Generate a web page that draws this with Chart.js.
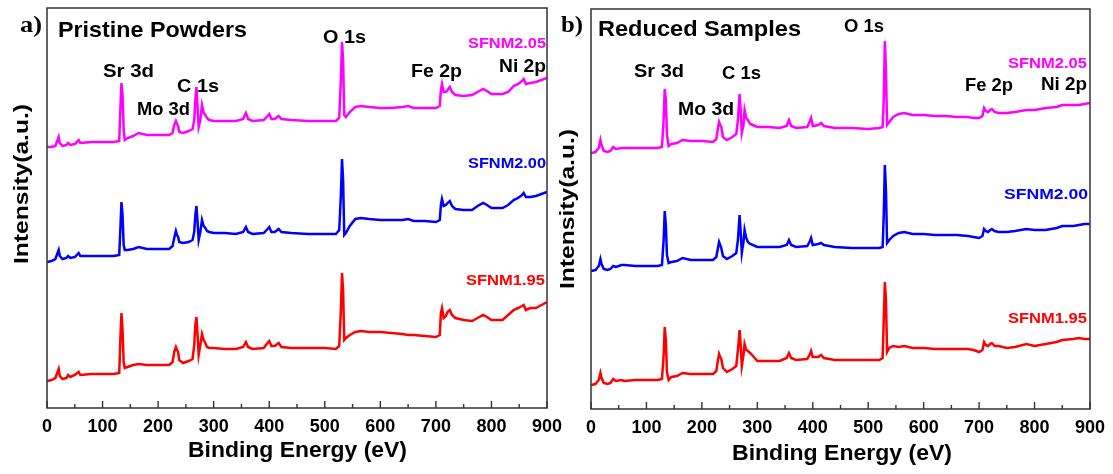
<!DOCTYPE html>
<html>
<head>
<meta charset="utf-8">
<script src="https://cdn.jsdelivr.net/npm/chart.js@4"></script>
<style>
  html, body { margin: 0; padding: 0; background: #fff; }
  body { width: 1113px; height: 474px; position: relative; overflow: hidden; }
  .panel { position: absolute; top: 0; height: 474px; }
  #wrapA { left: 0; width: 575px; }
  #wrapB { left: 556px; width: 557px; }
</style>
</head>
<body>
<div class="panel" id="wrapA"><canvas id="chartA" width="575" height="474"></canvas></div>
<div class="panel" id="wrapB"><canvas id="chartB" width="557" height="474"></canvas></div>
<script>
// binding energies (eV) sampled along the curves
const energyA = [0, 8, 15, 19, 21, 23, 28, 35, 38, 42, 50, 57, 60, 80, 100, 120, 130, 132, 134, 136,
  138, 140, 145, 155, 165, 180, 200, 220, 226, 229, 232, 234, 236, 238, 245, 255, 262, 265, 267, 269,
  271, 273, 276, 279, 282, 285, 288, 292, 300, 320, 340, 353, 358, 362, 370, 390, 397, 400, 404, 410,
  417, 422, 440, 470, 500, 520, 526, 529, 531, 533, 535, 538, 545, 555, 565, 580, 600, 620, 640, 650,
  660, 680, 700, 707, 709, 711, 714, 718, 721, 725, 729, 735, 750, 765, 775, 785, 792, 800, 820, 830,
  840, 848, 855, 858, 862, 870, 880, 890, 900];

// pristine powders, intensity (a.u., stacked)
const pristine205 = [261, 261, 262, 268, 271, 265, 262, 263, 265, 263, 264, 268, 265, 266, 266, 266, 267, 298, 325, 313,
  278, 268, 270, 272, 275, 273, 273, 273, 275, 283, 287, 284, 282, 276, 275, 277, 279, 288, 308, 321,
  300, 281, 288, 303, 295, 293, 290, 288, 287, 287, 287, 289, 295, 289, 287, 288, 292, 294, 289, 289,
  292, 289, 288, 287, 287, 287, 290, 328, 366, 348, 293, 291, 296, 301, 302, 301, 300, 300, 301, 302,
  300, 300, 300, 302, 318, 324, 316, 316, 318, 321, 316, 313, 312, 313, 316, 319, 317, 314, 314, 316,
  322, 324, 327, 329, 324, 325, 326, 328, 330];
const pristine200 = [146, 147, 149, 155, 158, 152, 149, 150, 152, 150, 151, 155, 152, 152, 152, 152, 153, 178, 206, 193,
  163, 158, 158, 159, 161, 159, 159, 159, 162, 170, 177, 173, 171, 166, 165, 166, 168, 176, 193, 202,
  186, 168, 176, 188, 182, 180, 177, 176, 175, 175, 174, 176, 181, 176, 174, 175, 179, 181, 176, 176,
  179, 176, 175, 174, 174, 174, 178, 213, 249, 228, 173, 175, 182, 189, 190, 189, 188, 188, 188, 189,
  187, 187, 186, 188, 203, 209, 202, 203, 205, 207, 202, 199, 198, 198, 202, 205, 203, 200, 200, 203,
  208, 210, 213, 215, 211, 211, 212, 214, 216];
const pristine195 = [27, 28, 30, 36, 39, 32, 29, 30, 33, 31, 33, 36, 33, 34, 34, 34, 35, 68, 95, 78,
  46, 40, 41, 43, 44, 43, 43, 43, 46, 56, 61, 58, 56, 48, 45, 47, 49, 63, 83, 91,
  73, 53, 63, 74, 68, 65, 61, 60, 60, 59, 59, 61, 66, 61, 59, 60, 65, 67, 62, 62,
  65, 61, 60, 60, 60, 59, 62, 98, 135, 118, 68, 70, 73, 76, 77, 76, 76, 75, 74, 73,
  73, 72, 71, 73, 95, 100, 90, 92, 96, 98, 93, 90, 88, 87, 90, 93, 91, 88, 88, 93,
  98, 100, 102, 103, 98, 100, 100, 103, 106];

const energyB = [0, 8, 14, 17, 19, 23, 30, 35, 40, 45, 55, 60, 80, 100, 120, 128, 131, 133, 135, 137,
  140, 145, 155, 165, 180, 200, 220, 226, 229, 231, 233, 235, 238, 245, 255, 262, 265, 268, 270, 272,
  275, 277, 280, 283, 287, 292, 300, 320, 340, 353, 357, 361, 370, 390, 395, 397, 400, 410, 415, 420,
  440, 470, 500, 520, 526, 528, 530, 532, 534, 538, 545, 555, 565, 580, 600, 620, 640, 660, 680, 690,
  700, 706, 709, 712, 716, 720, 723, 728, 735, 750, 765, 785, 800, 820, 840, 850, 870, 880, 890, 900];

// reduced samples
const reduced205 = [256, 257, 261, 269, 264, 258, 257, 258, 262, 260, 261, 261, 261, 261, 261, 262, 289, 320, 309, 274,
  263, 265, 266, 269, 268, 268, 267, 270, 281, 287, 284, 282, 272, 269, 272, 275, 289, 315, 299, 276,
  284, 299, 291, 289, 285, 284, 282, 282, 281, 283, 289, 283, 281, 282, 288, 291, 283, 284, 286, 283,
  281, 281, 280, 281, 282, 309, 368, 339, 284, 287, 292, 295, 296, 294, 294, 293, 293, 292, 292, 291,
  291, 293, 301, 298, 297, 299, 300, 297, 296, 296, 297, 299, 299, 301, 302, 304, 304, 304, 305, 306];
const reduced200 = [138, 139, 143, 150, 145, 140, 139, 140, 143, 142, 144, 144, 143, 143, 143, 144, 169, 198, 184, 154,
  146, 147, 148, 151, 149, 149, 149, 152, 161, 167, 164, 161, 153, 150, 153, 156, 169, 194, 177, 156,
  167, 179, 171, 167, 165, 164, 162, 162, 162, 164, 169, 164, 162, 163, 168, 171, 164, 165, 166, 164,
  162, 161, 161, 161, 162, 194, 244, 219, 166, 169, 173, 176, 177, 175, 175, 174, 174, 174, 173, 172,
  171, 173, 180, 178, 177, 179, 180, 178, 177, 177, 178, 180, 179, 179, 181, 183, 183, 184, 185, 185];
const reduced195 = [24, 25, 29, 36, 31, 26, 25, 26, 30, 28, 29, 28, 29, 29, 29, 30, 54, 82, 69, 37,
  29, 32, 33, 36, 35, 35, 35, 38, 49, 55, 52, 50, 41, 37, 40, 43, 59, 79, 64, 43,
  54, 65, 59, 58, 56, 53, 48, 48, 48, 51, 56, 51, 49, 50, 55, 58, 52, 52, 54, 51,
  49, 49, 49, 49, 51, 89, 127, 109, 57, 61, 63, 62, 63, 61, 61, 60, 60, 60, 60, 59,
  57, 59, 67, 64, 63, 65, 66, 63, 63, 61, 62, 65, 63, 65, 67, 69, 70, 71, 70, 70];

const xTicks = [0, 100, 200, 300, 400, 500, 600, 700, 800, 900];

const SANS = "'Liberation Sans', Arial, sans-serif";
const SERIF = "'Liberation Serif', 'Times New Roman', serif";
const MAGENTA = '#ff00ff', BLUE = '#0000ff', RED = '#ff0000';

const toPoints = (xs, ys) => xs.map((x, i) => ({ x: x, y: ys[i] }));

// frame + inward ticks + labels squeezed to the widths seen in the figure
const decorPlugin = {
    id: 'decor',
    afterDraw(chart, args, opts) {
        const ctx = chart.ctx;
        const area = chart.chartArea;
        const xs = chart.scales.x;
        ctx.save();
        ctx.strokeStyle = '#333';
        ctx.lineWidth = 1.5;
        ctx.strokeRect(area.left, area.top, area.right - area.left, area.bottom - area.top);
        ctx.lineWidth = 1.4;
        ctx.beginPath();
        for (let v = 0; v <= 900; v += 50) {
            const px = xs.getPixelForValue(v);
            const len = v % 100 === 0 ? 7 : 4;
            ctx.moveTo(px, area.bottom);
            ctx.lineTo(px, area.bottom - len);
        }
        ctx.stroke();
        ctx.restore();

        (opts.labels || []).forEach(l => {
            ctx.save();
            ctx.font = 'bold ' + l.size + 'px ' + (l.family || SANS);
            ctx.fillStyle = l.color || '#000';
            const w = ctx.measureText(l.text).width;
            const sx = l.w ? l.w / w : 1;
            ctx.translate(l.x - opts.offsetX, l.y);
            if (l.rot) {
                ctx.rotate(-Math.PI / 2);
                ctx.textAlign = 'center';
            } else {
                ctx.textAlign = 'left';
            }
            ctx.textBaseline = 'alphabetic';
            ctx.scale(sx, 1);
            ctx.fillText(l.text, 0, 0);
            ctx.restore();
        });
    }
};

function makeChart(id, energies, series, pad, axisHeight, offsetX, labels) {
    const datasets = series.map(s => ({
        data: toPoints(energies, s.values),
        borderColor: s.color,
        borderWidth: 2.5,
        pointRadius: 0,
        tension: 0,
        fill: false
    }));
    return new Chart(document.getElementById(id), {
        type: 'line',
        data: { datasets: datasets },
        options: {
            responsive: false,
            animation: false,
            devicePixelRatio: 1,
            layout: { padding: pad },
            plugins: {
                legend: { display: false },
                tooltip: { enabled: false },
                decor: { offsetX: offsetX, labels: labels }
            },
            scales: {
                x: {
                    type: 'linear',
                    min: 0,
                    max: 900,
                    afterBuildTicks: (scale) => { scale.ticks = xTicks.map(v => ({ value: v })); },
                    afterFit: (scale) => { scale.height = axisHeight; },
                    grid: { display: false, drawTicks: false },
                    border: { display: false },
                    ticks: {
                        color: '#000',
                        padding: 8,
                        maxRotation: 0,
                        autoSkip: false,
                        font: { family: SANS, size: 18, weight: 'bold' }
                    }
                },
                y: { display: false, min: 0, max: 400 }
            }
        },
        plugins: [decorPlugin]
    });
}

Chart.defaults.font.family = SANS;

makeChart('chartA', energyA, [
    { values: pristine205, color: MAGENTA },
    { values: pristine200, color: BLUE },
    { values: pristine195, color: RED }
], { left: 47, right: 28, top: 8, bottom: 0 }, 66, 0, [
    { text: 'a)', x: 20, y: 32, size: 23, w: 22, family: SERIF },
    { text: 'Pristine Powders', x: 58, y: 37, size: 22, w: 189 },
    { text: 'O 1s', x: 323, y: 43, size: 19, w: 43 },
    { text: 'Sr 3d', x: 103, y: 77, size: 19, w: 51 },
    { text: 'C 1s', x: 177, y: 92, size: 19, w: 42 },
    { text: 'Mo 3d', x: 137, y: 115, size: 19, w: 53 },
    { text: 'Fe 2p', x: 411, y: 77, size: 19, w: 51 },
    { text: 'Ni 2p', x: 499, y: 72, size: 19, w: 47 },
    { text: 'SFNM2.05', x: 468, y: 48, size: 15, w: 78, color: MAGENTA },
    { text: 'SFNM2.00', x: 468, y: 168, size: 15, w: 78, color: BLUE },
    { text: 'SFNM1.95', x: 466, y: 285, size: 15, w: 79, color: RED },
    { text: 'Binding Energy (eV)', x: 188, y: 457, size: 22, w: 219 },
    { text: 'Intensity(a.u.)', x: 28, y: 184, size: 20, w: 160, rot: true }
]);

makeChart('chartB', energyB, [
    { values: reduced205, color: MAGENTA },
    { values: reduced200, color: BLUE },
    { values: reduced195, color: RED }
], { left: 35, right: 19, top: 9, bottom: 0 }, 65, 556, [
    { text: 'b)', x: 561, y: 32, size: 23, w: 22, family: SERIF },
    { text: 'Reduced Samples', x: 598, y: 36, size: 22, w: 203 },
    { text: 'O 1s', x: 844, y: 32, size: 19, w: 40 },
    { text: 'Sr 3d', x: 634, y: 77, size: 19, w: 50 },
    { text: 'C 1s', x: 722, y: 79, size: 19, w: 39 },
    { text: 'Mo 3d', x: 678, y: 115, size: 19, w: 56 },
    { text: 'Fe 2p', x: 965, y: 91, size: 19, w: 48 },
    { text: 'Ni 2p', x: 1041, y: 90, size: 19, w: 46 },
    { text: 'SFNM2.05', x: 1008, y: 68, size: 15, w: 79, color: MAGENTA },
    { text: 'SFNM2.00', x: 1004, y: 199, size: 15, w: 84, color: BLUE },
    { text: 'SFNM1.95', x: 1008, y: 323, size: 15, w: 79, color: RED },
    { text: 'Binding Energy (eV)', x: 732, y: 460, size: 22, w: 220 },
    { text: 'Intensity(a.u.)', x: 574, y: 209, size: 20, w: 160, rot: true }
]);
</script>
</body>
</html>
